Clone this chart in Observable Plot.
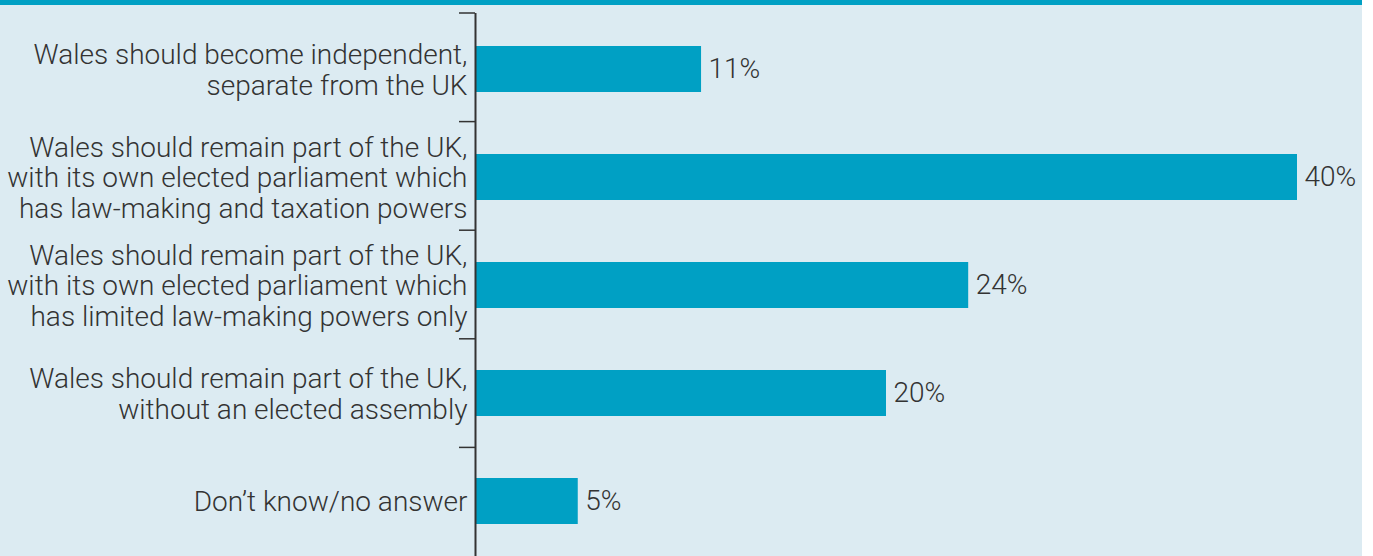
<!DOCTYPE html>
<html>
<head>
<meta charset="utf-8">
<script src="https://cdn.jsdelivr.net/npm/d3@7"></script>
<script src="https://cdn.jsdelivr.net/npm/@observablehq/plot@0.6"></script>
<style>
  html, body { margin: 0; padding: 0; background: #ffffff; }
  #chart { width: 1362px; background: #dcebf2; border-top: 5px solid #00a0c4; overflow: hidden; }
  #chart svg { display: block; }
</style>
</head>
<body>
<div id="chart"></div>
<script>
const categories = [
  "Wales should become independent,\nseparate from the UK",
  "Wales should remain part of the UK,\nwith its own elected parliament which\nhas law-making and taxation powers",
  "Wales should remain part of the UK,\nwith its own elected parliament which\nhas limited law-making powers only",
  "Wales should remain part of the UK,\nwithout an elected assembly",
  "Don\u2019t know/no answer"
];
const values = [11, 40, 24, 20, 5];
const xDomain = [0, 40];

const data = categories.map((c, i) => ({label: c, value: values[i]}));

const barColor = "#00a0c4";
const textColor = "#333333";

// tick marks at band boundaries on the left of the axis
function boundaryTicks(index, scales, values, dimensions) {
  const {width, height, marginTop, marginBottom, marginLeft} = dimensions;
  const n = categories.length;
  const step = (height - marginTop - marginBottom) / n;
  const g = d3.create("svg:g");
  for (let i = 0; i < n; i++) {
    const y = marginTop + i * step;
    g.append("line")
      .attr("x1", marginLeft - 16).attr("x2", marginLeft)
      .attr("y1", y).attr("y2", y)
      .attr("stroke", textColor).attr("stroke-width", 1.5);
  }
  return g.node();
}

const chart = Plot.plot({
  width: 1362,
  height: 551,
  marginTop: 8,
  marginBottom: 0,
  marginLeft: 475,
  marginRight: 65,
  style: "font-family: Roboto, 'Liberation Sans', sans-serif; font-weight: 300; background: transparent; overflow: visible; color: #333333;",
  x: {domain: xDomain, axis: null},
  y: {domain: categories, axis: null, paddingInner: 0.576, paddingOuter: 0.288},
  marks: [
    Plot.barX(data, {x: "value", y: "label", fill: barColor}),
    Plot.ruleX([0], {stroke: textColor, strokeWidth: 2}),
    boundaryTicks,
    Plot.text(data, {x: 0, y: "label", text: "label", textAnchor: "end", dx: -8, fontSize: 28, lineHeight: 1.1, fill: textColor}),
    Plot.text(data, {x: "value", y: "label", text: d => d.value + "%", textAnchor: "start", dx: 7, fontSize: 28, fill: textColor})
  ]
});
document.getElementById("chart").appendChild(chart);
</script>
</body>
</html>
